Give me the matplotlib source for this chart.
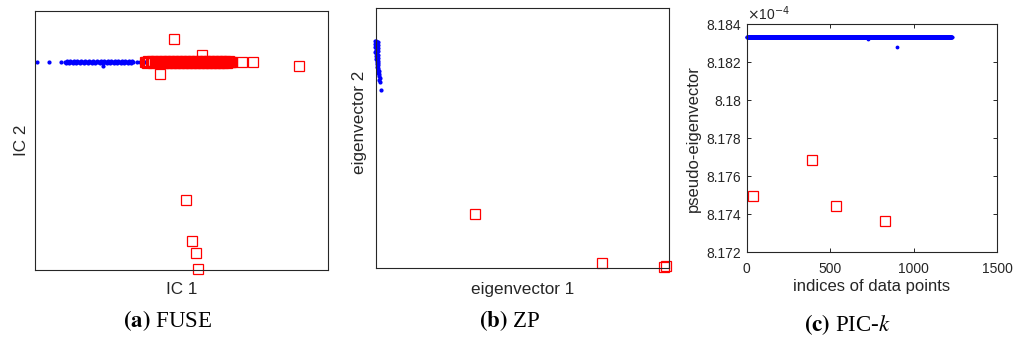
import numpy as np
import matplotlib
matplotlib.use("Agg")
import matplotlib.pyplot as plt
from matplotlib.ticker import FixedLocator, FixedFormatter

plt.rcParams['font.family'] = ['Liberation Sans', 'DejaVu Sans']
plt.rcParams['mathtext.fontset'] = 'stix'

INK = '#262626'
BLUE = (0, 0, 1)
RED = (1, 0, 0)

# (a) FUSE - independent component scores (arbitrary units, no ticks shown)
fuse_blue_x = [2, 14, 26, 30, 31, 32, 33, 34, 35, 36, 37, 38, 39, 40, 41, 42, 43, 44, 45,
               46, 47, 48, 49, 50, 51, 52, 53, 54, 55, 56, 57, 58, 59, 60, 61, 62, 63, 64,
               65, 66, 67, 68, 69, 70, 71, 72, 73, 74, 75, 76, 77, 78, 79, 80, 81, 82, 83,
               84, 85, 86, 87, 88, 89, 90, 91, 92, 93, 94, 95, 96, 97, 98, 102, 105, 108,
               110, 68]
fuse_blue_y = [208, 208, 208, 208, 207, 209, 208, 207, 209, 208, 208, 207, 209, 208,
               207, 209, 208, 208, 207, 209, 208, 208, 207, 209, 208, 208, 207, 209,
               208, 208, 207, 209, 208, 207, 208, 209, 208, 208, 207, 209, 208, 207,
               209, 208, 208, 207, 209, 208, 207, 209, 208, 208, 207, 209, 208, 207,
               209, 208, 208, 207, 209, 208, 207, 209, 208, 208, 207, 209, 208, 207,
               209, 208, 208, 208, 208, 208, 204]
fuse_red_x = [110, 111, 112, 113, 114, 116, 117, 118, 120, 121, 122, 123, 125, 126, 127,
              128, 129, 130, 131, 132, 133, 134, 135, 136, 137, 138, 139, 140, 141, 142,
              143, 144, 145, 146, 147, 148, 149, 150, 151, 152, 153, 154, 155, 156, 157,
              158, 159, 160, 161, 162, 163, 164, 165, 166, 167, 168, 169, 170, 171, 172,
              173, 174, 175, 176, 177, 178, 179, 180, 181, 182, 183, 184, 185, 186, 187,
              188, 189, 190, 191, 192, 193, 194, 195, 196, 197,
              139, 167, 125, 207, 218, 264, 151, 157, 161, 163]
fuse_red_y = [208, 208, 207, 209, 208, 208, 209, 207, 208, 209, 208, 207, 208, 209, 208,
              207, 208, 209, 208, 207, 208, 209, 208, 207, 208, 209, 208, 207, 208, 209,
              208, 207, 208, 209, 208, 207, 208, 209, 208, 207, 208, 209, 208, 207, 208,
              209, 208, 207, 208, 209, 208, 207, 208, 209, 208, 207, 208, 209, 208, 207,
              208, 209, 208, 207, 208, 209, 208, 207, 208, 209, 208, 207, 208, 209, 208,
              207, 208, 209, 208, 207, 208, 209, 208, 208, 208,
              231, 215, 196, 208, 208, 204, 70, 29, 17, 1]

# (b) ZP - eigenvector coordinates (arbitrary units, no ticks shown)
zp_blue_x = [-1, 0, 1, 2, -1, 0, 1, 2, -1, 0, 1, 2, 0, 1, 2, -1, 0, 1, 2, 0, 1, 2,
             0, 1, 2, 1, 2, 1, 2, 1, 2, 2, 3, 2, 3, 3, 4, 3, 4, 5]
zp_blue_y = [227, 227, 226, 226, 224, 224, 223, 223, 221, 221, 220, 220, 218, 218,
             217, 216, 215, 214, 213, 212, 211, 210, 209, 208, 207, 206, 205, 204,
             203, 201, 200, 198, 197, 195, 194, 192, 190, 188, 186, 178]
zp_red_x = [99, 226, 288, 290]
zp_red_y = [54, 5, 1, 2]

# (c) PIC-k - pseudo-eigenvector values (x 1e-4) against data index
pic_n_points = 1227
pic_level = 8.18334
pic_blue_outlier_idx = [728, 901]
pic_blue_outlier_val = [8.18324, 8.18282]
pic_red_idx = [40, 389, 533, 828]
pic_red_val = [8.17498, 8.17686, 8.17445, 8.17363]
pic_xticks = [0, 500, 1000, 1500]
pic_yticks = [8.172, 8.174, 8.176, 8.178, 8.18, 8.182, 8.184]
pic_ytick_labels = ['8.172', '8.174', '8.176', '8.178', '8.18', '8.182', '8.184']

idx = np.arange(1, pic_n_points + 1)
vals = np.full(pic_n_points, pic_level)
for i, v in zip(pic_blue_outlier_idx, pic_blue_outlier_val):
    vals[i - 1] = v
keep = ~np.isin(idx, pic_red_idx)
pic_blue_idx = idx[keep]
pic_blue_val = vals[keep]

W, H = 1015, 339
fig = plt.figure(figsize=(W / 100, H / 100), dpi=100)


def px_axes(x0, y0, x1, y1):
    return fig.add_axes([x0 / W, 1 - y1 / H, (x1 - x0) / W, (y1 - y0) / H])


def style(ax):
    for s in ax.spines.values():
        s.set_color(INK)
        s.set_linewidth(0.8)


# ---- (a)
ax1 = px_axes(35, 10.7, 328, 270)
style(ax1)
ax1.plot(fuse_blue_x, fuse_blue_y, '.', color=BLUE, ms=4, clip_on=False)
ax1.plot(fuse_red_x, fuse_red_y, 's', mfc='none', mec=RED, ms=6.5, mew=0.9, clip_on=False)
ax1.set_xlim(0, 293)
ax1.set_ylim(0, 259.3)
ax1.set_xticks([])
ax1.set_yticks([])
ax1.set_xlabel('IC 1', fontsize=12.3, color=INK, labelpad=9)
ax1.set_ylabel('IC 2', fontsize=12.3, color=INK, labelpad=4)

# ---- (b)
ax2 = px_axes(376, 8, 669, 268)
style(ax2)
ax2.plot(zp_blue_x, zp_blue_y, '.', color=BLUE, ms=4, clip_on=False)
ax2.plot(zp_red_x, zp_red_y, 's', mfc='none', mec=RED, ms=6.5, mew=0.9, clip_on=False)
ax2.set_xlim(0, 293)
ax2.set_ylim(0, 260)
ax2.set_xticks([])
ax2.set_yticks([])
ax2.set_xlabel('eigenvector 1', fontsize=12.3, color=INK, labelpad=10)
ax2.set_ylabel('eigenvector 2', fontsize=12.3, color=INK)
ax2.yaxis.set_label_coords(-0.03, 0.56)

# ---- (c)
ax3 = px_axes(746.7, 24.3, 997.3, 252.3)
style(ax3)
ax3.plot(pic_blue_idx, pic_blue_val, '.', color=BLUE, ms=3.5, clip_on=False)
ax3.plot(pic_red_idx, pic_red_val, 's', mfc='none', mec=RED, ms=6.5, mew=0.9)
ax3.set_xlim(0, 1500)
ax3.set_ylim(8.172, 8.184)
ax3.xaxis.set_major_locator(FixedLocator(pic_xticks))
ax3.yaxis.set_major_locator(FixedLocator(pic_yticks))
ax3.yaxis.set_major_formatter(FixedFormatter(pic_ytick_labels))
ax3.tick_params(direction='in', top=True, right=True, length=3, width=0.7,
                colors=INK, labelsize=10, pad=4)
ax3.tick_params(axis='x', pad=7)
ax3.set_xlabel('indices of data points', fontsize=12, color=INK, labelpad=2)
ax3.set_ylabel('pseudo-eigenvector', fontsize=12, color=INK, labelpad=4)
ax3.text(0.0, 1.005, r'$\times$10$^{-4}$', transform=ax3.transAxes, fontsize=10,
         color=INK, ha='left', va='bottom',
         math_fontfamily='dejavusans')

# ---- captions
cap_kw = dict(fontsize=16.5, family='Liberation Serif', ha='center', va='center', color='black')
fig.text(168 / W, 1 - 321 / H, r'$\mathbf{(a)}$ FUSE', **cap_kw)
fig.text(510 / W, 1 - 321 / H, r'$\mathbf{(b)}$ ZP', **cap_kw)
fig.text(847 / W, 1 - 325 / H, r'$\mathbf{(c)}$ PIC-$k$', **cap_kw)

fig.savefig('out.png', dpi=100)
